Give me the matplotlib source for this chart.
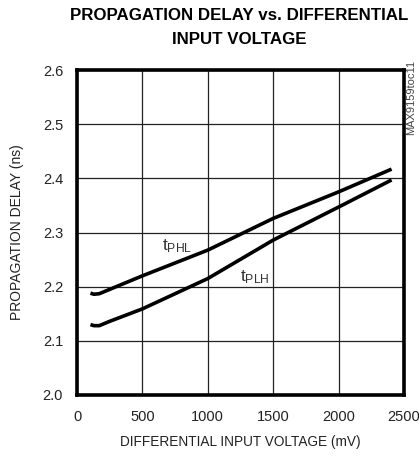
import matplotlib
matplotlib.use("Agg")
import matplotlib.pyplot as plt

x_phl = [103, 130, 170, 250, 500, 1000, 1500, 2000, 2405]
y_phl = [2.188, 2.186, 2.187, 2.195, 2.220, 2.2675, 2.326, 2.375, 2.417]
x_plh = [103, 130, 170, 250, 500, 1000, 1500, 2000, 2405]
y_plh = [2.130, 2.128, 2.128, 2.136, 2.159, 2.215, 2.286, 2.347, 2.397]

xticks = [0, 500, 1000, 1500, 2000, 2500]
yticks = [2.0, 2.1, 2.2, 2.3, 2.4, 2.5, 2.6]

plt.rcParams['font.family'] = ['Liberation Sans', 'DejaVu Sans']
plt.rcParams['mathtext.fontset'] = 'custom'
plt.rcParams['mathtext.rm'] = 'Liberation Sans'

W, H = 419, 457
fig = plt.figure(figsize=(W / 100, H / 100), dpi=100)
ax = fig.add_axes([77/W, 1 - 395/H, (404 - 77)/W, (395 - 70)/H])
ax.plot(x_phl, y_phl, color='black', lw=2.6, solid_capstyle='butt')
ax.plot(x_plh, y_plh, color='black', lw=2.6, solid_capstyle='butt')
ax.set_xlim(0, 2500)
ax.set_ylim(2.0, 2.6)
ax.set_xticks(xticks)
ax.set_yticks(yticks)
ax.set_xticklabels([str(v) for v in xticks])
ax.set_yticklabels([f"{v:.1f}" for v in yticks])
ax.grid(True, color='#222222', lw=0.9)
ax.tick_params(axis='y', length=0, labelsize=10.5, pad=10, labelcolor='#222222')
ax.tick_params(axis='x', length=0, labelsize=10.5, pad=11, labelcolor='#222222')
for s in ax.spines.values():
    s.set_linewidth(2.6)
ax.set_axisbelow(True)

xl = ax.set_xlabel('DIFFERENTIAL INPUT VOLTAGE (mV)', fontsize=10, color='#222222')
ax.xaxis.set_label_coords(0.5, -(442 - 395) / (395 - 70))
xl.set_va('center')
yl = ax.set_ylabel('PROPAGATION DELAY (ns)', fontsize=10, color='#222222')
ax.yaxis.set_label_coords(-(77 - 17) / (404 - 77), 0.5)
yl.set_va('center')

ax.text(650, 2.268, r'$\mathregular{t_{PHL}}$', fontsize=12.5, color='#333333')
ax.text(1245, 2.210, r'$\mathregular{t_{PLH}}$', fontsize=12.5, color='#333333')
t1 = fig.text(239/W, 1 - 16/H, 'PROPAGATION DELAY vs. DIFFERENTIAL', ha='center', va='center',
              fontsize=12, fontweight='bold')
t2 = fig.text(239/W, 1 - 40/H, 'INPUT VOLTAGE', ha='center', va='center',
              fontsize=12, fontweight='bold')
side = fig.text(411/W, 1 - 97/H, 'MAX9159toc11', rotation=90, ha='center', va='center',
                fontsize=6.5, color='#444444')

# fit text sizes to the widths measured on the reference
fig.canvas.draw()
r = fig.canvas.get_renderer()
def fit(t, target, horizontal=True):
    bb = t.get_window_extent(r)
    cur = bb.width if horizontal else bb.height
    t.set_fontsize(t.get_fontsize() * target / cur)
fit(t1, 338)
fit(xl, 240)
fit(yl, 175, horizontal=False)
fit(side, 75, horizontal=False)
t2.set_fontsize(t1.get_fontsize())

fig.savefig('out.png', dpi=100)
